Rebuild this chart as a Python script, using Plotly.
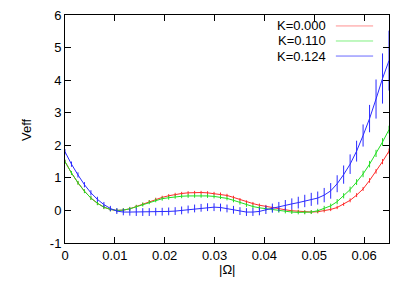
import plotly.graph_objects as go

omega = [0.0, 0.0013, 0.0026, 0.0039, 0.0052, 0.0065, 0.0078, 0.0091, 0.0104, 0.0117,
         0.013, 0.0143, 0.0156, 0.0169, 0.0182, 0.0195, 0.0208, 0.0221, 0.0234, 0.0247,
         0.026, 0.0273, 0.0286, 0.0299, 0.0312, 0.0325, 0.0338, 0.0351, 0.0364, 0.0377,
         0.039, 0.0403, 0.0416, 0.0429, 0.0442, 0.0455, 0.0468, 0.0481, 0.0494, 0.0507,
         0.052, 0.0533, 0.0546, 0.0559, 0.0572, 0.0585, 0.0598, 0.0611, 0.0624, 0.0637, 0.065]

veff_k0000 = [1.50, 1.15, 0.85, 0.59, 0.38, 0.22, 0.10, 0.03, 0.00, 0.01,
              0.05, 0.12, 0.19, 0.27, 0.34, 0.40, 0.45, 0.49, 0.52, 0.54,
              0.55, 0.55, 0.54, 0.52, 0.50, 0.46, 0.40, 0.33, 0.26, 0.21,
              0.16, 0.12, 0.08, 0.05, 0.02, -0.01, -0.03, -0.05, -0.05, -0.04,
              -0.01, 0.03, 0.09, 0.19, 0.31, 0.47, 0.66, 0.92, 1.20, 1.50, 1.82]
err_k0000 = [0.05] * 40 + [0.05, 0.05, 0.05, 0.05, 0.06, 0.06, 0.06, 0.07, 0.07, 0.08, 0.08]

veff_k0110 = [1.50, 1.15, 0.85, 0.59, 0.38, 0.22, 0.10, 0.03, 0.00, 0.01,
              0.05, 0.11, 0.18, 0.25, 0.31, 0.36, 0.39, 0.42, 0.435, 0.445,
              0.45, 0.45, 0.445, 0.43, 0.41, 0.37, 0.31, 0.24, 0.17, 0.12,
              0.08, 0.05, 0.02, -0.01, -0.03, -0.05, -0.06, -0.06, -0.05, -0.01,
              0.07, 0.14, 0.27, 0.45, 0.64, 0.87, 1.12, 1.42, 1.75, 2.10, 2.48]
err_k0110 = [0.06] * 40 + [0.07, 0.07, 0.08, 0.08, 0.09, 0.09, 0.10, 0.10, 0.11, 0.12, 0.12]

veff_k0124 = [1.80, 1.42, 1.09, 0.79, 0.54, 0.34, 0.18, 0.06, -0.02, -0.05,
              -0.05, -0.05, -0.05, -0.05, -0.04, -0.04, -0.03, -0.02, 0.00, 0.03,
              0.06, 0.08, 0.10, 0.10, 0.09, 0.06, 0.02, -0.02, -0.05, -0.05,
              -0.03, 0.02, 0.07, 0.11, 0.16, 0.20, 0.24, 0.29, 0.34, 0.38,
              0.47, 0.60, 0.82, 1.10, 1.42, 1.82, 2.30, 2.82, 3.42, 4.05, 4.60]
err_k0124 = [0.08, 0.08, 0.08, 0.08, 0.08, 0.08, 0.08, 0.08, 0.09, 0.10,
             0.11, 0.12, 0.12, 0.12, 0.12, 0.12, 0.12, 0.12, 0.12, 0.12,
             0.12, 0.12, 0.12, 0.12, 0.12, 0.12, 0.12, 0.12, 0.12, 0.12,
             0.12, 0.13, 0.14, 0.15, 0.16, 0.17, 0.18, 0.19, 0.20, 0.20,
             0.22, 0.24, 0.26, 0.28, 0.30, 0.32, 0.34, 0.42, 0.60, 0.77, 0.92]

series_names = ["K=0.000", "K=0.110", "K=0.124"]
series_colors = ["#ff2a2a", "#22dd22", "#2a2aff"]
legend_colors = ["#ff9090", "#80f080", "#6a6aff"]

x_tickvals = [0, 0.01, 0.02, 0.03, 0.04, 0.05, 0.06]
x_ticktext = ["0", "0.01", "0.02", "0.03", "0.04", "0.05", "0.06"]
y_tickvals = [-1, 0, 1, 2, 3, 4, 5, 6]
y_ticktext = ["-1", "0", "1", "2", "3", "4", "5", "6"]

fig = go.Figure()
for name, ys, es, col in zip(series_names,
                             [veff_k0000, veff_k0110, veff_k0124],
                             [err_k0000, err_k0110, err_k0124],
                             series_colors):
    fig.add_trace(go.Scatter(
        x=omega, y=ys, mode="lines", name=name,
        line=dict(color=col, width=1),
        error_y=dict(type="data", array=es, visible=True, color=col,
                     thickness=1, width=0),
        showlegend=False,
    ))

font = dict(family="Liberation Sans, Arial, sans-serif", size=13, color="black")

# gnuplot-style key: right-aligned text followed by a line sample
row_y = [0.952, 0.886, 0.820]
for name, lc, yy in zip(series_names, legend_colors, row_y):
    fig.add_annotation(x=0.809, y=yy, xref="paper", yref="paper", text=name,
                       showarrow=False, xanchor="right", yanchor="middle",
                       borderpad=0, font=font)
    fig.add_shape(type="line", xref="paper", yref="paper", x0=0.836, x1=0.951,
                  y0=yy, y1=yy, line=dict(color=lc, width=1))

fig.add_annotation(x=-0.117, y=0.496, xref="paper", yref="paper", text="Veff",
                   textangle=-90, showarrow=False, xanchor="center", yanchor="middle",
                   font=font)
fig.add_annotation(x=0.5, y=-0.118, xref="paper", yref="paper", text="|Ω|",
                   showarrow=False, xanchor="center", yanchor="middle", font=font)

axis_common = dict(showgrid=False, zeroline=False, showline=True, linecolor="black",
                   linewidth=1, mirror="allticks", ticks="inside", ticklen=6,
                   tickcolor="black", tickwidth=1, tickfont=font, automargin=False,
                   ticklabeloverflow="allow")
fig.update_xaxes(range=[0, 0.065], tickvals=x_tickvals, ticktext=x_ticktext, **axis_common)
fig.update_yaxes(range=[-1, 6], tickvals=y_tickvals, ticktext=y_ticktext, **axis_common)

# the page body adds an 8px offset, so the figure is sized to fit the window
fig.update_layout(
    width=401, height=278,
    margin=dict(l=57, r=20, t=7, b=43),
    paper_bgcolor="white", plot_bgcolor="white",
    font=font,
)

fig.write_html("out.html")
